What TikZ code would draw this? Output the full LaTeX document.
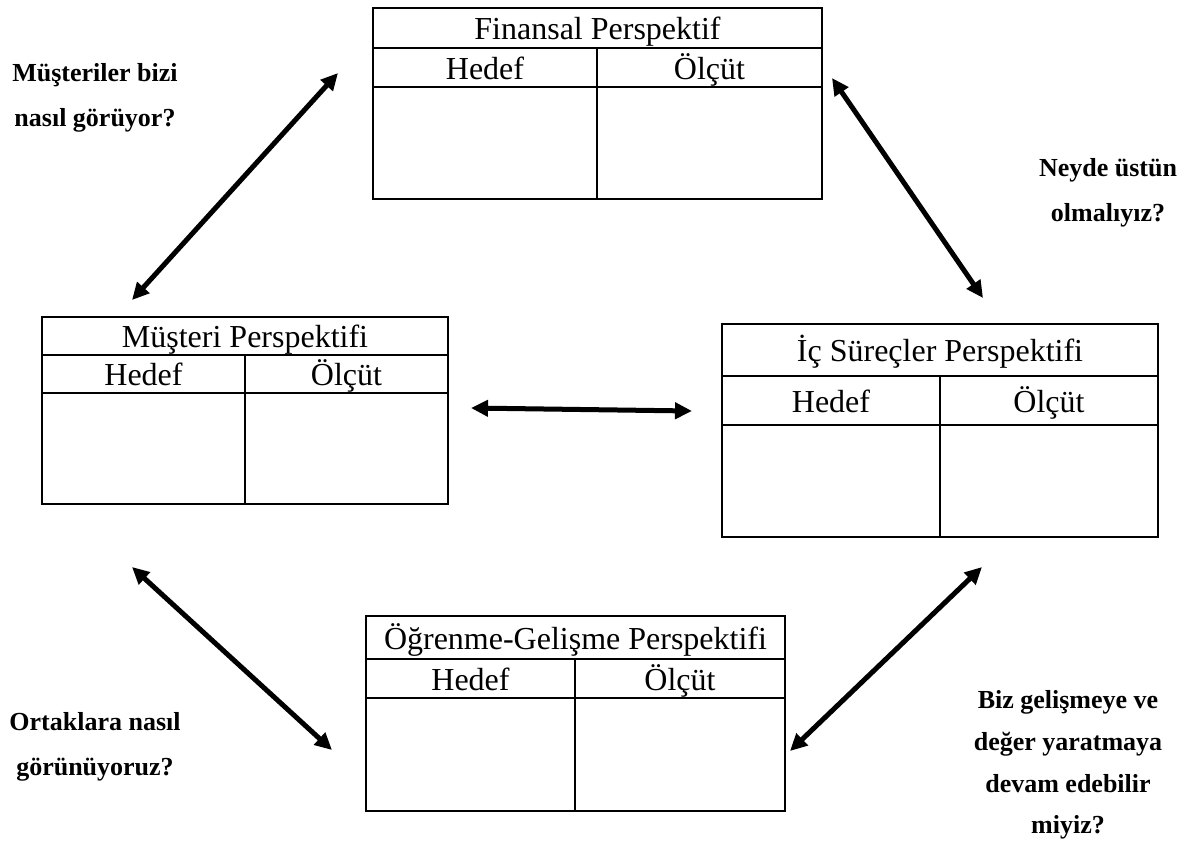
\documentclass[tikz,border=0pt]{standalone}
\usepackage{fontspec}
\setmainfont{Liberation Serif}
\usetikzlibrary{arrows.meta}

\tikzset{
  frame/.style={draw=black, line width=1.1pt},
  celltext/.style={font=\fontsize{16}{19}\selectfont, inner sep=0pt, anchor=base},
  question/.style={font=\bfseries\fontsize{13}{22.5}\selectfont, align=center, inner sep=0pt},
  link/.style={line width=2.5pt, {Triangle[length=8.5pt,width=8pt]}-{Triangle[length=8.5pt,width=8pt]}}
}

% A perspective table: left, top, right, bottom, title line, header line, column split
\newcommand{\perspbox}[9]{%
  \draw[frame] (#1,#2) rectangle (#3,#4);
  \draw[frame] (#1,#5) -- (#3,#5);
  \draw[frame] (#1,#6) -- (#3,#6);
  \draw[frame] (#7,#5) -- (#7,#4);
  \node[celltext] (#8-title) at ({(#1+#3)/2},{(#2+#5)/2+11.5}) {#9};
  \node[celltext] (#8-hedef) at ({(#1+#7)/2},{(#5+#6)/2+11.5}) {Hedef};
  \node[celltext] (#8-olcut) at ({(#7+#3)/2},{(#5+#6)/2+11.5}) {Ölçüt};
}

\begin{document}
\begin{tikzpicture}[x=0.5pt,y=-0.5pt]
\useasboundingbox (0,0) rectangle (1188,848);

% four perspective tables
\perspbox{373}{8}{822}{199}{48}{87}{597}{fin}{Finansal Perspektif}
\perspbox{42}{317}{448}{504}{355}{393}{245}{mus}{Müşteri Perspektifi}
\perspbox{722}{324}{1158}{537}{376}{425}{940}{ic}{İç Süreçler Perspektifi}
\perspbox{366}{616}{785}{811}{659}{698}{575}{ogr}{Öğrenme-Gelişme Perspektifi}

% arrow end points
\coordinate (a1s) at (132,300);
\coordinate (a1e) at (338,73);
\coordinate (a2s) at (832,78);
\coordinate (a2e) at (983,298);
\coordinate (a3s) at (471,408);
\coordinate (a3e) at (692,411);
\coordinate (a4s) at (132,567);
\coordinate (a4e) at (332,750);
\coordinate (a5s) at (982,567);
\coordinate (a5e) at (790,751);

\draw[link] (a1s) -- (a1e);
\draw[link] (a2s) -- (a2e);
\draw[link] (a3s) -- (a3e);
\draw[link] (a4s) -- (a4e);
\draw[link] (a5s) -- (a5e);

% guiding questions
\node[question] (q1) at (95,98) {Müşteriler bizi\\nasıl görüyor?};
\node[question] (q2) at (1108,193) {Neyde üstün\\olmalıyız?};
\node[question] (q3) at (95,747) {Ortaklara nasıl\\görünüyoruz?};
\node[question, font=\bfseries\fontsize{13}{20.8}\selectfont] (q4) at (1068,765)
  {Biz gelişmeye ve\\değer yaratmaya\\devam edebilir\\miyiz?};
\end{tikzpicture}
\end{document}
